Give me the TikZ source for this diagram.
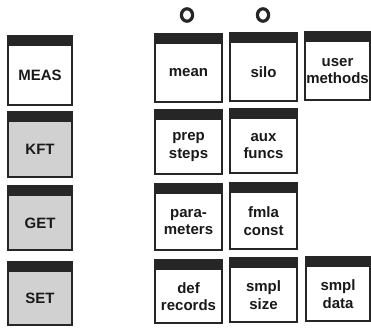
\documentclass[tikz,border=0pt]{standalone}
\usepackage{fontspec}
\setmainfont{Liberation Sans}
\begin{document}
\begin{tikzpicture}[x=1pt,y=-1pt,
  panel/.style={draw=black!85, line width=1.3pt, inner sep=0pt,
    path picture={\fill[black!85] (path picture bounding box.north west) rectangle ([yshift=-9.5pt]path picture bounding box.north east);}},
  plain/.style={fill=white},
  shaded/.style={fill=black!18},
  lab/.style={align=center, inner sep=0pt, font=\fontsize{15}{17.5}\selectfont\bfseries, text=black!90},
  ring/.style={draw=black!85, line width=3.2pt}]
\useasboundingbox (0,0) rectangle (371,327);
\newcommand\panelbox[7]{%
  \node[panel,#6, minimum width={(#4-#2)*1pt}, minimum height={(#5-#3)*1pt}] (#1) at ({(#2+#4)/2},{(#3+#5)/2}) {};
  \node[lab] (#1-t) at ([yshift=-5pt]#1.center) {#7};}
% left column
\panelbox{meas}{8}{36}{72}{105}{plain}{MEAS}
\panelbox{kft}{8}{112}{72}{177}{shaded}{KFT}
\panelbox{get}{8}{186}{72}{250}{shaded}{GET}
\panelbox{set}{8}{262}{72}{325}{shaded}{SET}
% row 1
\panelbox{mean}{155}{34}{222}{102}{plain}{mean}
\panelbox{silo}{230}{33}{297}{101}{plain}{silo}
\panelbox{user}{305}{32}{370}{100}{plain}{user\\methods}
% row 2
\panelbox{prep}{155}{110}{222}{174}{plain}{prep\\steps}
\panelbox{aux}{230}{109}{297}{173}{plain}{aux\\funcs}
% row 3
\panelbox{para}{155}{184}{222}{250}{plain}{para-\\meters}
\panelbox{fmla}{230}{183}{297}{249}{plain}{fmla\\const}
% row 4
\panelbox{def}{155}{260}{222}{323}{plain}{def\\records}
\panelbox{size}{230}{258}{297}{322}{plain}{smpl\\size}
\panelbox{data}{306}{257}{370}{321}{plain}{smpl\\data}
% rings
\coordinate (r1) at (187,15);
\coordinate (r2) at (263,15);
\draw[ring] (r1) ellipse [x radius=5.6pt, y radius=6.2pt];
\draw[ring] (r2) ellipse [x radius=5.6pt, y radius=6.2pt];
\end{tikzpicture}
\end{document}
